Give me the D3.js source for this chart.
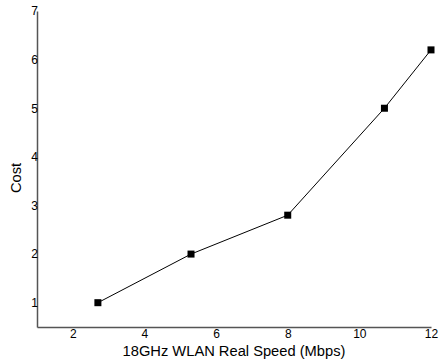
<!DOCTYPE html>
<html>
<head>
<meta charset="utf-8">
<script src="https://cdn.jsdelivr.net/npm/d3@7"></script>
<style>
  body { margin: 0; background: #fff; }
  svg text { font-family: "Liberation Sans", Arial, sans-serif; fill: #000; }
</style>
</head>
<body>
<svg id="chart"></svg>
<script>
const speed = [2.7, 5.3, 8, 10.7, 12];
const cost = [1, 2, 2.8, 5, 6.2];
const xTicks = [2, 4, 6, 8, 10, 12];
const yTicks = [1, 2, 3, 4, 5, 6, 7];

const width = 440, height = 363;
const margin = { top: 11, right: 9, bottom: 36, left: 37 };

const svg = d3.select('#chart').attr('width', width).attr('height', height);

const x = d3.scaleLinear().domain([1, 12]).range([margin.left, width - margin.right]);
const y = d3.scaleLinear().domain([0.5, 7]).range([height - margin.bottom, margin.top]);

const data = speed.map((s, i) => ({ s, c: cost[i] }));

// axes without tick marks
svg.append('g')
  .attr('transform', `translate(0,${height - margin.bottom})`)
  .call(d3.axisBottom(x).tickValues(xTicks).tickFormat(d3.format('d')).tickSize(0).tickPadding(2))
  .call(g => g.select('.domain').attr('stroke', '#555').attr('stroke-width', 1.5))
  .call(g => g.selectAll('text').attr('font-size', 12));

svg.append('g')
  .attr('transform', `translate(${margin.left},0)`)
  .call(d3.axisLeft(y).tickValues(yTicks).tickFormat(d3.format('d')).tickSize(0).tickPadding(-1))
  .call(g => g.select('.domain').attr('stroke', '#555').attr('stroke-width', 1.5))
  .call(g => g.selectAll('text').attr('font-size', 12));

svg.append('path')
  .datum(data)
  .attr('fill', 'none')
  .attr('stroke', '#000')
  .attr('stroke-width', 1)
  .attr('d', d3.line().x(d => x(d.s)).y(d => y(d.c)));

svg.append('g')
  .selectAll('rect')
  .data(data)
  .join('rect')
  .attr('x', d => x(d.s) - 3.5)
  .attr('y', d => y(d.c) - 3.5)
  .attr('width', 7)
  .attr('height', 7)
  .attr('fill', '#000');

svg.append('text')
  .attr('x', 234)
  .attr('y', height - 7)
  .attr('text-anchor', 'middle')
  .attr('font-size', 14.7)
  .text('18GHz WLAN Real Speed (Mbps)');

svg.append('text')
  .attr('transform', 'translate(21,178) rotate(-90)')
  .attr('text-anchor', 'middle')
  .attr('font-size', 14.7)
  .text('Cost');
</script>
</body>
</html>
